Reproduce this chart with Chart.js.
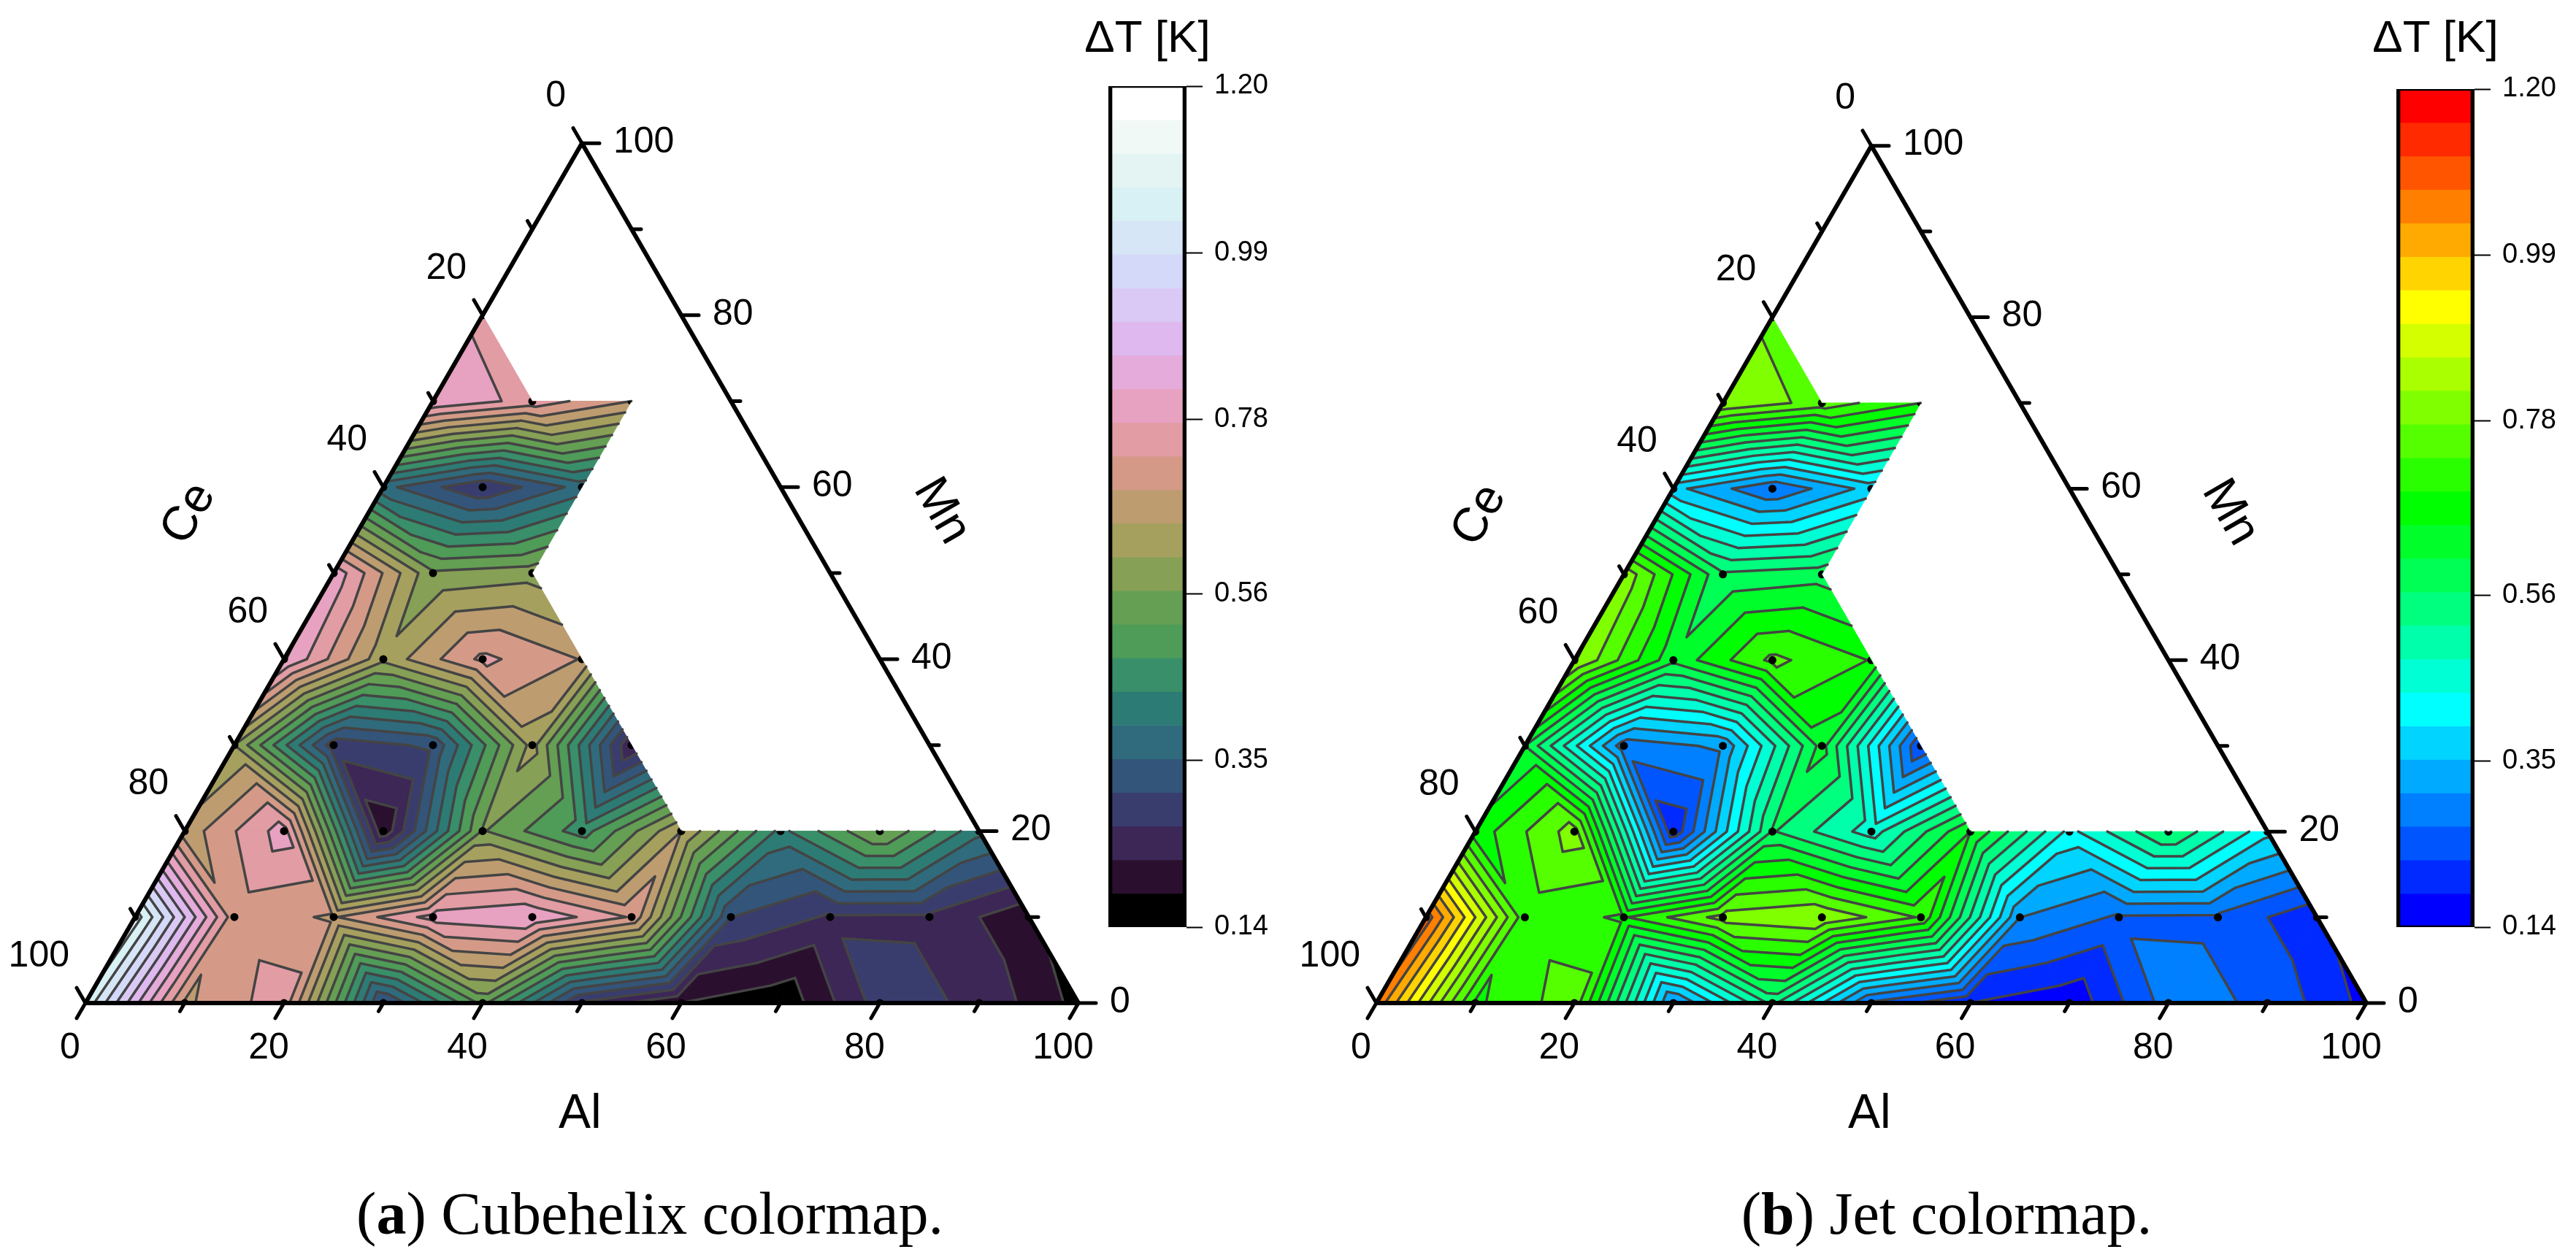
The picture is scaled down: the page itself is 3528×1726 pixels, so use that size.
<!DOCTYPE html>
<html>
<head>
<meta charset="utf-8">
<style>
body { margin: 0; background: #fff; width: 3528px; height: 1726px; overflow: hidden; position: relative; }
canvas { position: absolute; top: 0; }
.caption { position: absolute; top: 1616px; font: 82px "Liberation Serif", serif; color: #000; white-space: nowrap; transform: translateX(-50%); }
</style>
<script src="https://cdn.jsdelivr.net/npm/chart.js@4/dist/chart.umd.js"></script>
</head>
<body>
<canvas id="ternaryA"></canvas>
<canvas id="barA"></canvas>
<canvas id="ternaryB"></canvas>
<canvas id="barB"></canvas>
<div class="caption" style="left:890px">(<b>a</b>) Cubehelix colormap.</div>
<div class="caption" style="left:2666px">(<b>b</b>) Jet colormap.</div>
<script>
// Mn content of each measured row, values are dT [K] going Al = 0, 10, 20 ...
const mnRows = [0, 10, 20, 30, 40, 50, 60, 70, 80]
const dTmn0 = [1.064, 0.683, 0.759, 0.301, 0.534, 0.259, 0.182, 0.150, 0.286, 0.259, 0.169]
const dTmn10 = [1.098, 0.708, 0.687, 0.793, 0.814, 0.729, 0.310, 0.261, 0.259, 0.191]
const dTmn20 = [0.666, 0.797, 0.191, 0.568, 0.458, 0.649, 0.424, 0.568, 0.407]
const dTmn30 = [0.606, 0.284, 0.318, 0.623, 0.225]
const dTmn40 = [0.823, 0.619, 0.744, 0.689]
const dTmn50 = [0.806, 0.572, 0.589]
const dTmn60 = [0.365, 0.271, 0.369]
const dTmn70 = [0.814, 0.759, 0.691]
const dTmn80 = [0.765]
const dTRows = [dTmn0, dTmn10, dTmn20, dTmn30, dTmn40, dTmn50, dTmn60, dTmn70, dTmn80]

// measured region, as Al, Mn corners
const regionAl = [0, 100, 80, 50, 20, 20, 10, 0]
const regionMn = [0, 0, 20, 20, 50, 70, 70, 80]

const contourLevels = [0.14, 0.1824, 0.2248, 0.2672, 0.3096, 0.352, 0.3944, 0.4368, 0.4792, 0.5216, 0.564, 0.6064, 0.6488,
    0.6912, 0.7336, 0.776, 0.8184, 0.8608, 0.9032, 0.9456, 0.988, 1.0304, 1.0728, 1.1152, 1.1576, 1.2]
const colorbarTicks = [0.14, 0.35, 0.56, 0.78, 0.99, 1.20]
const axisTicks = [0, 10, 20, 30, 40, 50, 60, 70, 80, 90, 100]

const cubehelixColors = ['#000000', '#2a102e', '#3c2757', '#393d6e', '#33557a', '#2f6b7c', '#2d7b75', '#388f6a', '#4f9b58',
    '#649f53', '#86a056', '#a6a05f', '#bd9c70', '#d49a87', '#e29ca3', '#e7a1c1', '#e5abdb', '#deb8ee', '#d9c9f4', '#d4d8f9',
    '#d6e6f6', '#d8f1f5', '#e3f4f3', '#f0f9f6', '#ffffff']
const jetColors = ['#0000ff', '#002aff', '#0055ff', '#007fff', '#00aaff', '#00d4ff', '#00ffff', '#00ffd4', '#00ffaa',
    '#00ff7f', '#00ff55', '#00ff2a', '#00ff00', '#2aff00', '#55ff00', '#7fff00', '#aaff00', '#d4ff00', '#ffff00', '#ffd400',
    '#ffaa00', '#ff7f00', '#ff5500', '#ff2a00', '#ff0000']

const GAP = { x: null, y: null }

// ternary to plot coordinates, y stays in Mn units
function xy(al, mn) {
    return { x: al + mn / 2, y: mn }
}

function getTriangles() {
    const tris = []
    const node = (i, r) => ({ ...xy(i * 10, mnRows[r]), v: dTRows[r][i] })
    for (let r = 0; r < dTRows.length - 1; r++) {
        const n = dTRows[r].length
        const m = dTRows[r + 1].length
        for (let i = 0; i < n - 1; i++) {
            if (i < m) tris.push([node(i, r), node(i + 1, r), node(i, r + 1)])
            if (i + 1 < m) tris.push([node(i + 1, r), node(i, r + 1), node(i + 1, r + 1)])
        }
    }
    return tris
}

function cross(a, b, level) {
    const t = (level - a.v) / (b.v - a.v)
    return { x: a.x + t * (b.x - a.x), y: a.y + t * (b.y - a.y), v: level }
}

// keep the part of a polygon on one side of a level
function clipPoly(poly, level, keepAbove) {
    const inside = p => keepAbove ? p.v >= level : p.v <= level
    const out = []
    poly.forEach(function (p, i) {
        const q = poly[(i + 1) % poly.length]
        if (inside(p)) out.push(p)
        if (inside(p) !== inside(q)) out.push(cross(p, q, level))
    })
    return out
}

function bandPoints(tris, lo, hi) {
    const points = []
    tris.forEach(function (tri) {
        const poly = clipPoly(clipPoly(tri, lo, true), hi, false)
        if (poly.length < 3) return
        poly.forEach(p => points.push({ x: p.x, y: p.y }))
        points.push({ x: poly[0].x, y: poly[0].y }, GAP)
    })
    return points
}

function contourPoints(tris, level) {
    const points = []
    tris.forEach(function (tri) {
        const hits = []
        tri.forEach(function (p, i) {
            const q = tri[(i + 1) % 3]
            if ((p.v < level) !== (q.v < level)) hits.push(cross(p, q, level))
        })
        if (hits.length === 2) {
            points.push({ x: hits[0].x, y: hits[0].y }, { x: hits[1].x, y: hits[1].y }, GAP)
        }
    })
    return points
}

function framePoints() {
    return [xy(0, 0), xy(100, 0), xy(0, 100), xy(0, 0)]
}

function tickPoints(unit) {
    const points = []
    axisTicks.forEach(function (t) {
        const len = (t % 20 === 0 ? 24 : 13) / unit
        const mn = 100 - t
        points.push(xy(t, 0), xy(t, -len), GAP)                 // Al, runs parallel to left side
        points.push(xy(100 - t, t), xy(100 - t + len, t), GAP)  // Mn, horizontal
        points.push(xy(0, mn), xy(-len, mn + len), GAP)         // Ce, runs parallel to right side
    })
    return points
}

function dotPoints() {
    const points = []
    dTRows.forEach(function (row, r) {
        row.forEach(function (v, i) { points.push(xy(i * 10, mnRows[r])) })
    })
    return points
}

function lineSet(data, color, width) {
    return { data: data, borderColor: color, borderWidth: width, pointRadius: 0, spanGaps: false, fill: false,
        borderCapStyle: 'round', borderJoinStyle: 'round', tension: 0 }
}

const clipToRegion = {
    id: 'clipToRegion',
    beforeDatasetDraw(chart, args) {
        if (!chart.data.datasets[args.index].regionClip) return
        const { x, y } = chart.scales
        const ctx = chart.ctx
        ctx.save()
        ctx.beginPath()
        regionAl.forEach(function (al, i) {
            const p = xy(al, regionMn[i])
            ctx.lineTo(x.getPixelForValue(p.x), y.getPixelForValue(p.y))
        })
        ctx.closePath()
        ctx.clip()
    },
    afterDatasetDraw(chart, args) {
        if (chart.data.datasets[args.index].regionClip) chart.ctx.restore()
    }
}

const ternaryText = {
    id: 'ternaryText',
    afterDatasetsDraw(chart) {
        const { x, y } = chart.scales
        const ctx = chart.ctx
        const px = (al, mn) => { const p = xy(al, mn); return [x.getPixelForValue(p.x), y.getPixelForValue(p.y)] }
        ctx.save()
        ctx.fillStyle = '#000'
        ctx.font = '50px "Liberation Sans"'
        ctx.textBaseline = 'middle'
        axisTicks.filter(t => t % 20 === 0).forEach(function (t) {
            let p = px(t, 0)
            ctx.textAlign = 'center'
            ctx.fillText(String(t), p[0] - 21, p[1] + 62)
            p = px(100 - t, t)
            ctx.textAlign = 'left'
            ctx.fillText(String(t), p[0] + 43, p[1] - 1)
            p = px(0, 100 - t)
            ctx.textAlign = 'right'
            ctx.fillText(String(t), p[0] - 22, p[1] - 64)
        })
        ctx.font = '66px "Liberation Sans"'
        ctx.textAlign = 'center'
        const titles = [['Al', 49.8, -13.0, 0], ['Ce', 10.44, 56.9, -Math.PI / 3], ['Mn', 86.2, 57.2, Math.PI / 3]]
        titles.forEach(function (t) {
            ctx.save()
            ctx.translate(x.getPixelForValue(t[1]), y.getPixelForValue(t[2]))
            ctx.rotate(t[3])
            ctx.fillText(t[0], 0, 0)
            ctx.restore()
        })
        ctx.restore()
    }
}

function drawTernary(id, vertexX, unit, colors) {
    const canvas = document.getElementById(id)
    canvas.width = 1560
    canvas.height = 1600
    canvas.style.left = (vertexX - 117) + 'px'
    const yUnit = unit * Math.sqrt(3) / 2
    const tris = getTriangles()

    const datasets = []
    colors.forEach(function (color, k) {
        const set = lineSet(bandPoints(tris, contourLevels[k], contourLevels[k + 1]), color, 1)
        set.backgroundColor = color
        set.fill = 'shape'
        datasets.push(set)
    })
    contourLevels.slice(1, -1).forEach(function (level) {
        datasets.push(lineSet(contourPoints(tris, level), '#444444', 3.5))
    })
    datasets.push({ data: dotPoints(), showLine: false, pointRadius: 5.5, pointBorderWidth: 0, pointBackgroundColor: '#000', regionClip: true })
    datasets.push(lineSet(framePoints(), '#000', 6))
    datasets.push(lineSet(tickPoints(unit), '#000', 5))

    new Chart(canvas, {
        type: 'line',
        data: { datasets: datasets.reverse() },
        options: {
            responsive: false,
            animation: false,
            parsing: { xAxisKey: 'x', yAxisKey: 'y' },
            layout: { padding: 0, autoPadding: false },
            plugins: { legend: { display: false }, tooltip: { enabled: false } },
            scales: {
                x: { type: 'linear', display: false, bounds: 'data', min: -117 / unit, max: (1560 - 117) / unit },
                y: { type: 'linear', display: false, bounds: 'data', min: -(1600 - 1374) / yUnit, max: 1374 / yUnit }
            }
        },
        plugins: [clipToRegion, ternaryText]
    })
}

const colorbarTitle = {
    id: 'colorbarTitle',
    afterDraw(chart) {
        const ctx = chart.ctx
        const area = chart.chartArea
        ctx.save()
        ctx.fillStyle = '#000'
        ctx.font = '62px "Liberation Sans"'
        ctx.textAlign = 'center'
        ctx.textBaseline = 'middle'
        ctx.fillText('ΔT [K]', (area.left + area.right) / 2, 54)
        ctx.restore()
    }
}

function drawColorbar(id, barLeft, barTop, colors) {
    const canvas = document.getElementById(id)
    canvas.width = 360
    canvas.height = 1320
    canvas.style.left = (barLeft - 47) + 'px'

    const datasets = colors.map(function (color, k) {
        return { data: [[contourLevels[k], contourLevels[k + 1]]], backgroundColor: color, grouped: false,
            barPercentage: 1, categoryPercentage: 1 }
    })
    datasets.push({ data: [[contourLevels[0], contourLevels[25]]], backgroundColor: 'rgba(0,0,0,0)', borderColor: '#000',
        borderWidth: { left: 5, right: 5, top: 2, bottom: 2 }, borderSkipped: false, grouped: false,
        barPercentage: 1, categoryPercentage: 1 })

    new Chart(canvas, {
        type: 'bar',
        data: { labels: ['dT'], datasets: datasets.reverse() },
        options: {
            responsive: false,
            animation: false,
            layout: { padding: { left: 47, top: barTop, bottom: 1320 - 1270, right: 0 } },
            plugins: { legend: { display: false }, tooltip: { enabled: false } },
            scales: {
                x: { display: false },
                y: {
                    position: 'right',
                    min: 0.14,
                    max: 1.2,
                    afterBuildTicks(axis) { axis.ticks = colorbarTicks.map(v => ({ value: v })) },
                    afterFit(axis) { axis.width = 360 - 47 - 107 },
                    border: { display: false },
                    grid: { drawOnChartArea: false, drawTicks: true, tickLength: 22, tickColor: '#000', tickWidth: 2 },
                    ticks: { color: '#000', padding: 16, autoSkip: false, maxRotation: 0, align: 'center',
                        font: { family: 'Liberation Sans', size: 38 }, callback: v => v.toFixed(2) }
                }
            }
        },
        plugins: [colorbarTitle]
    })
}

drawTernary('ternaryA', 117, 13.6, cubehelixColors)
drawColorbar('barA', 1518, 118, cubehelixColors)
drawTernary('ternaryB', 1885, 13.56, jetColors)
drawColorbar('barB', 3282, 122, jetColors)
</script>
</body>
</html>
